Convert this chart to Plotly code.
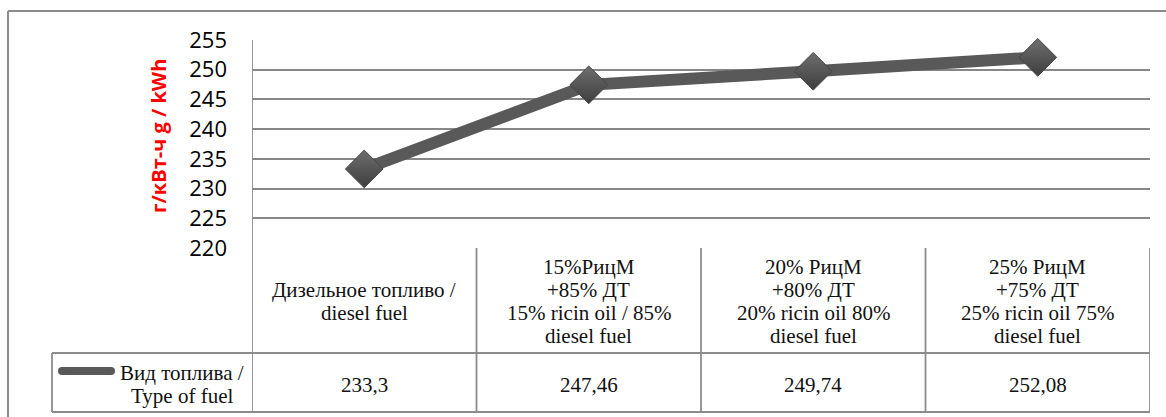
import plotly.graph_objects as go

# Chart data
categories = [
    "Дизельное топливо /<br>diesel fuel",
    "15%РицМ<br>+85% ДТ<br>15% ricin oil / 85%<br>diesel fuel",
    "20% РицМ<br>+80% ДТ<br>20% ricin oil 80%<br>diesel fuel",
    "25% РицМ<br>+75% ДТ<br>25% ricin oil 75%<br>diesel fuel",
]
values = [233.3, 247.46, 249.74, 252.08]
value_labels = ["233,3", "247,46", "249,74", "252,08"]
y_ticks = [220, 225, 230, 235, 240, 245, 250, 255]
series_name = "Вид топлива /<br>Type of fuel"
y_title = "г/кВт-ч g / kWh"

# Page geometry (pixels)
W, H = 1166, 417
L, R, T, B = 252, 16, 40, 169
PW = W - L - R
PH = H - T - B

def px_x(px):
    return (px - L) / PW

def px_y(py):
    return (H - B - py) / PH

LINE_COL = "#595959"
GRID_COL = "#878787"
BORDER_COL = "#8c8c8c"
SERIF = "Liberation Serif"
SANS = "Open Sans"
TABLE_FONT = dict(family=SERIF, size=21, color="#111")
LINE_STEP = 23  # px between text lines in the table

xs = list(range(len(categories)))

fig = go.Figure()
fig.add_trace(go.Scatter(
    x=xs, y=values, mode="lines+markers",
    line=dict(color=LINE_COL, width=12),
    marker=dict(symbol="diamond", size=29, color="#6e6e6e",
                gradient=dict(type="vertical", color="#3e3e3e"),
                line=dict(color="#454545", width=1)),
    showlegend=False, hoverinfo="skip", cliponaxis=False,
))

shapes = []
annotations = []

def seg(x0, y0, x1, y1, xref="paper", width=1.8, color=BORDER_COL):
    shapes.append(dict(type="line", xref=xref, yref="paper",
                       x0=x0, y0=y0, x1=x1, y1=y1,
                       line=dict(color=color, width=width), layer="above"))

def text_block(x, xref, center_py, text):
    lines = text.split("<br>")
    first = center_py - LINE_STEP * (len(lines) - 1) / 2
    for j, ln in enumerate(lines):
        annotations.append(dict(x=x, y=px_y(first + j * LINE_STEP),
                                xref=xref, yref="paper", text=ln,
                                showarrow=False, xanchor="center",
                                yanchor="middle", font=TABLE_FONT))

# Data table under the plot
row_mid = px_y(353)
row_bot = px_y(412)
n = len(categories)
for k in range(n + 1):
    xb = k - 0.5
    seg(xb, px_y(248) if k else 1.0, xb, row_bot, xref="x")
seg(px_x(52), row_mid, 1.0, row_mid)
seg(px_x(52), row_bot, 1.0, row_bot)
seg(px_x(52), row_mid, px_x(52), row_bot)

for i, (cat, lab) in enumerate(zip(categories, value_labels)):
    text_block(i, "x", 301, cat)
    text_block(i, "x", 385, lab)

# Series key in the table
shapes.append(dict(type="line", xref="paper", yref="paper",
                   x0=px_x(62), x1=px_x(111), y0=px_y(371), y1=px_y(371),
                   line=dict(color=LINE_COL, width=8)))
for cx in (62, 111):
    shapes.append(dict(type="circle", xref="paper", yref="paper",
                       xsizemode="pixel", ysizemode="pixel",
                       xanchor=px_x(cx), yanchor=px_y(371),
                       x0=-4, x1=4, y0=-4, y1=4,
                       fillcolor=LINE_COL, line=dict(width=0)))
text_block(px_x(182), "paper", 384.5, series_name)

# Axis title
annotations.append(dict(x=px_x(158), y=px_y(136), xref="paper", yref="paper",
                        text="<b>" + y_title + "</b>", textangle=-90,
                        showarrow=False, xanchor="center", yanchor="middle",
                        font=dict(family=SANS, size=20, color="#ff0000")))

# Outer frame
seg(px_x(8), px_y(11), px_x(8), px_y(420), width=2)
seg(px_x(8), px_y(11), px_x(1170), px_y(11), width=2)

fig.update_layout(
    width=W, height=H,
    margin=dict(l=L, r=R, t=T, b=B, pad=0),
    paper_bgcolor="white", plot_bgcolor="white",
    shapes=shapes, annotations=annotations,
    xaxis=dict(range=[-0.5, n - 0.5], showticklabels=False, showgrid=False,
               zeroline=False, fixedrange=True, ticks=""),
    yaxis=dict(range=[220, 255], tickvals=y_ticks, showgrid=True,
               gridcolor=GRID_COL, gridwidth=1.5, zeroline=False,
               showline=False, ticks="", ticklabelstandoff=24,
               tickfont=dict(family=SANS, size=22, color="#000")),
)

fig.write_html("out.html")
